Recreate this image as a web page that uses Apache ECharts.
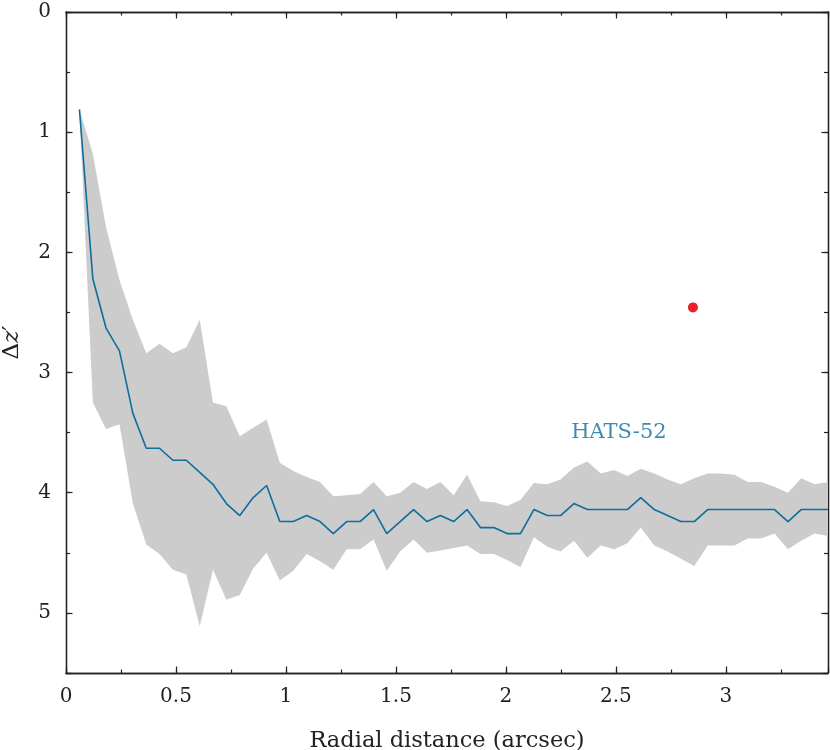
<!DOCTYPE html>
<html>
<head>
<meta charset="utf-8">
<title>HATS-52 contrast curve</title>
<script src="https://cdn.jsdelivr.net/npm/echarts@6/dist/echarts.min.js"></script>
<style>
  html, body { margin: 0; padding: 0; background: #fff; }
  #chart { width: 830px; height: 750px; }
</style>
</head>
<body>
<div id="chart"></div>
<script>
// radial distance of each sample (arcsec)
const radius = [
  0.061, 0.122, 0.182, 0.243, 0.304, 0.365, 0.425, 0.486, 0.547, 0.608,
  0.668, 0.729, 0.790, 0.851, 0.912, 0.972, 1.033, 1.094, 1.155, 1.215,
  1.276, 1.337, 1.398, 1.458, 1.519, 1.580, 1.641, 1.702, 1.762, 1.823,
  1.884, 1.945, 2.005, 2.066, 2.127, 2.188, 2.248, 2.309, 2.370, 2.431,
  2.492, 2.552, 2.613, 2.674, 2.735, 2.795, 2.856, 2.917, 2.978, 3.039,
  3.099, 3.160, 3.221, 3.282, 3.342, 3.403, 3.464
];
// contrast curve (delta z')
const curve = [
  0.81, 2.22, 2.63, 2.82, 3.34, 3.63, 3.63, 3.73, 3.73, 3.83,
  3.93, 4.09, 4.19, 4.04, 3.94, 4.24, 4.24, 4.19, 4.24, 4.34,
  4.24, 4.24, 4.14, 4.34, 4.24, 4.14, 4.24, 4.19, 4.24, 4.14,
  4.29, 4.29, 4.34, 4.34, 4.14, 4.19, 4.19, 4.09, 4.14, 4.14,
  4.14, 4.14, 4.04, 4.14, 4.19, 4.24, 4.24, 4.14, 4.14, 4.14,
  4.14, 4.14, 4.14, 4.24, 4.14, 4.14, 4.14
];
// grey band: top edge and bottom edge
const bandTop = [
  0.81, 1.18, 1.79, 2.23, 2.56, 2.84, 2.76, 2.84, 2.79, 2.56,
  3.25, 3.28, 3.53, 3.46, 3.39, 3.75, 3.82, 3.87, 3.91, 4.03,
  4.02, 4.01, 3.91, 4.03, 4.00, 3.91, 3.97, 3.91, 4.02, 3.85,
  4.07, 4.08, 4.11, 4.06, 3.92, 3.93, 3.89, 3.79, 3.74, 3.84,
  3.81, 3.86, 3.80, 3.84, 3.89, 3.93, 3.88, 3.84, 3.84, 3.85,
  3.91, 3.91, 3.95, 4.00, 3.88, 3.93, 3.91
];
const bandBottom = [
  0.81, 3.25, 3.47, 3.43, 4.09, 4.43, 4.51, 4.64, 4.68, 5.11,
  4.64, 4.89, 4.85, 4.63, 4.50, 4.73, 4.65, 4.51, 4.57, 4.64,
  4.47, 4.47, 4.39, 4.65, 4.49, 4.39, 4.50, 4.48, 4.46, 4.44,
  4.51, 4.51, 4.56, 4.62, 4.37, 4.45, 4.49, 4.40, 4.54, 4.44,
  4.47, 4.42, 4.29, 4.44, 4.49, 4.55, 4.61, 4.44, 4.44, 4.44,
  4.38, 4.38, 4.34, 4.47, 4.40, 4.34, 4.36
];
// companion detection
const companion = [[2.85, 2.458]];
const starName = 'HATS-52';
const starLabelAt = [[2.297, 3.50]];

const xMin = 0, xMax = 3.464;
const yMin = 0, yMax = 5.5;

const FONT = 'DejaVu Serif';
const BLUE = '#0f6d9e';
const INK = '#222';

function xAxisDef(pos, interval, tickLen, showLabel) {
  return {
    type: 'value', position: pos, min: xMin, max: xMax, interval: interval,
    axisLine: { show: true, onZero: false, lineStyle: { color: INK, width: 1.3 } },
    axisTick: { show: true, inside: true, length: tickLen, lineStyle: { color: INK, width: 1.2 } },
    axisLabel: {
      show: showLabel, margin: 14, color: INK, fontFamily: FONT, fontSize: 20,
      formatter: v => (Math.abs(v * 2 - Math.round(v * 2)) < 1e-6 ? String(v) : '')
    },
    splitLine: { show: false }
  };
}
function yAxisDef(pos, interval, tickLen, showLabel) {
  return {
    type: 'value', position: pos, inverse: true, min: yMin, max: yMax, interval: interval,
    axisLine: { show: true, onZero: false, lineStyle: { color: INK, width: 1.3 } },
    axisTick: { show: true, inside: true, length: tickLen, lineStyle: { color: INK, width: 1.2 } },
    axisLabel: {
      show: showLabel, margin: 15, color: INK, fontFamily: FONT, fontSize: 20,
      formatter: v => (Math.abs(v - Math.round(v)) < 1e-6 ? String(v) : '')
    },
    splitLine: { show: false }
  };
}

const xMain = xAxisDef('bottom', 0.5, 6.5, true);
xMain.name = 'Radial distance (arcsec)';
xMain.nameLocation = 'middle';
xMain.nameGap = 57;
xMain.nameTextStyle = { fontFamily: FONT, fontSize: 22.5, color: INK };

const yMain = yAxisDef('left', 1, 6.5, true);
yMain.name = '{u|\u0394}{i|z}{u|\u2032}';
yMain.nameLocation = 'middle';
yMain.nameGap = 42;
yMain.nameTextStyle = {
  fontFamily: FONT, fontSize: 23, color: INK,
  rich: {
    u: { fontFamily: FONT, fontSize: 23, color: INK },
    i: { fontFamily: FONT, fontSize: 23, color: INK, fontStyle: 'italic' }
  }
};

const option = {
  animation: false,
  backgroundColor: '#fff',
  grid: { left: 66, right: 2, top: 12, bottom: 77, outerBoundsMode: 'none', containLabel: false },
  xAxis: [
    xMain,
    xAxisDef('bottom', 0.25, 3.5, false),
    xAxisDef('top', 0.5, 6.5, false),
    xAxisDef('top', 0.25, 3.5, false)
  ],
  yAxis: [
    yMain,
    yAxisDef('left', 0.5, 4, false),
    yAxisDef('right', 1, 6.5, false),
    yAxisDef('right', 0.5, 4, false)
  ],
  series: [
    {
      // the grey band as one polygon, top edge forward then bottom edge back
      type: 'custom', name: 'band', silent: true, z: 1,
      data: radius.map((r, i) => [r, bandTop[i], bandBottom[i]]),
      encode: { x: 0, y: [1, 2] },
      renderItem: function (params, api) {
        if (params.dataIndex !== 0) return null;
        const upper = radius.map((r, i) => api.coord([r, bandTop[i]]));
        const lower = radius.map((r, i) => api.coord([r, bandBottom[i]])).reverse();
        return {
          type: 'polygon',
          shape: { points: upper.concat(lower) },
          style: { fill: '#cccccc', stroke: null }
        };
      }
    },
    {
      type: 'line', name: 'curve', symbol: 'none',
      data: radius.map((r, i) => [r, curve[i]]),
      lineStyle: { color: BLUE, width: 1.6 }, z: 3
    },
    {
      type: 'scatter', name: 'companion', data: companion, symbolSize: 10,
      itemStyle: { color: '#e8202a', opacity: 1 }, z: 4
    },
    {
      type: 'scatter', name: 'label', data: starLabelAt, symbolSize: 0,
      label: {
        show: true, position: 'right', distance: 0, formatter: starName,
        color: BLUE, fontFamily: FONT, fontSize: 21
      }, z: 4
    }
  ]
};

const chart = echarts.init(document.getElementById('chart'), null, { renderer: 'canvas' });
chart.setOption(option);
</script>
</body>
</html>
